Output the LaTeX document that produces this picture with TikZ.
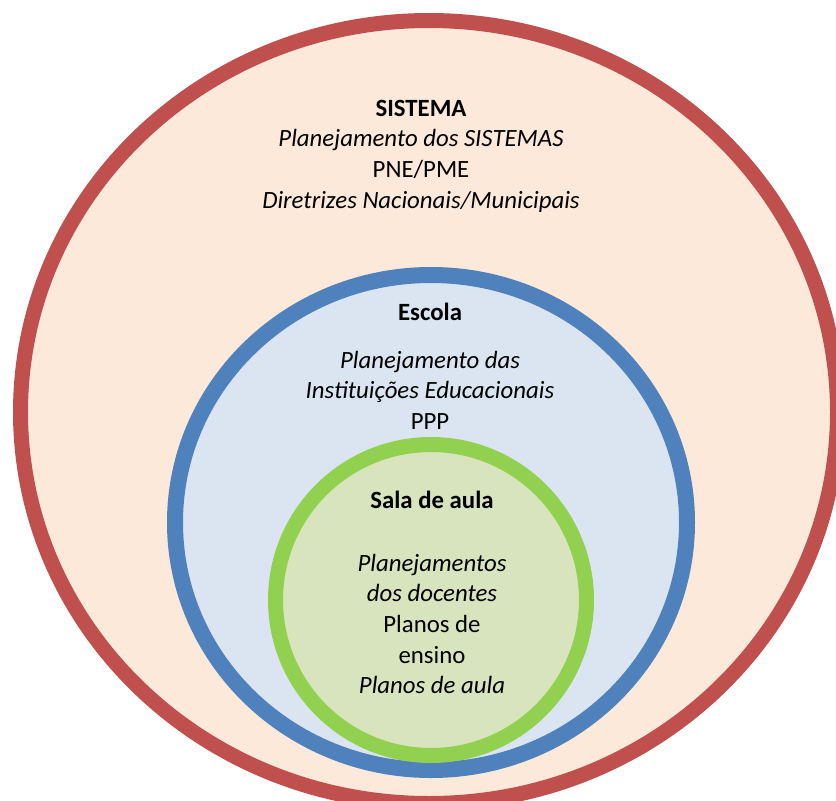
\documentclass[tikz,border=0pt]{standalone}
\usepackage{fontspec}
\setmainfont{Carlito}
\usepackage{tikz}
\usetikzlibrary{positioning}

\definecolor{sysred}{HTML}{C0504D}
\definecolor{sysfill}{HTML}{FDE9D9}
\definecolor{escblue}{HTML}{4F81BD}
\definecolor{escfill}{HTML}{DBE5F1}
\definecolor{salagreen}{HTML}{92D050}
\definecolor{salafill}{HTML}{D7E4BD}

\begin{document}
\begin{tikzpicture}[x=1pt, y=-1pt,
    every node/.style={font=\fontsize{24.8}{30.6}\selectfont, align=center, inner sep=0pt},
    ring/.style={line width=15pt}]
    \useasboundingbox (0,0) rectangle (836,801);
    \clip (0,0) rectangle (836,801);
    % nested levels
    \draw[ring, draw=sysred, fill=sysfill] (429,412) ellipse [x radius=408.5, y radius=391.5];
    \draw[ring, line width=16pt, draw=escblue, fill=escfill] (431,522.5) ellipse [x radius=256, y radius=247.5];
    \draw[ring, draw=salagreen, fill=salafill] (431,600) circle [radius=155.5];
    % texts
    \node (sistema) at (421,156) {\textbf{SISTEMA}\\ \textit{Planejamento dos SISTEMAS}\\ PNE/PME\\ \textit{Diretrizes Nacionais/Municipais}};
    \node (escola) at (430,312) {\textbf{Escola}};
    \node (escolatxt) at (430,390) {\textit{Planejamento das}\\ \textit{Instituições Educacionais}\\ PPP};
    \node (sala) at (432,500) {\textbf{Sala de aula}};
    \node (salatxt) at (432,624) {\textit{Planejamentos}\\ \textit{dos docentes}\\ Planos de\\ ensino\\ \textit{Planos de aula}};
\end{tikzpicture}
\end{document}
